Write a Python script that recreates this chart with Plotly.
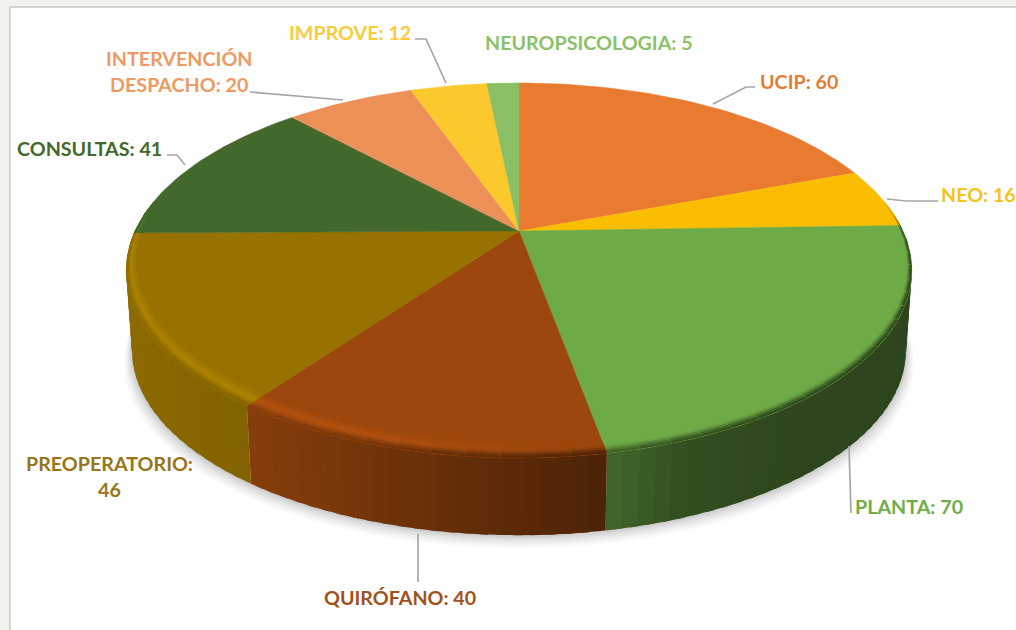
import math
import plotly.graph_objects as go

# ---------- data ----------
categories = ["UCIP", "NEO", "PLANTA", "QUIRÓFANO", "PREOPERATORIO",
              "CONSULTAS", "INTERVENCIÓN DESPACHO", "IMPROVE", "NEUROPSICOLOGIA"]
values = [60, 16, 70, 40, 46, 41, 20, 12, 5]
colors = ["#E97B30", "#FBBD00", "#6EAB46", "#9C470D", "#977200",
          "#43682B", "#EC9058", "#FBC92E", "#8ABF66"]
label_colors = ["#E57C33", "#F4C21A", "#70AD47", "#A0521C", "#99751A",
                "#43682B", "#EE9A63", "#FBCB3C", "#8CC168"]

# ---------- label layout (pixel space) ----------
label_text = ["UCIP: 60", "NEO: 16", "PLANTA: 70", "QUIRÓFANO: 40", "PREOPERATORIO:<br>46",
              "CONSULTAS: 41", "INTERVENCIÓN<br>DESPACHO: 20", "IMPROVE: 12", "NEUROPSICOLOGIA: 5"]
label_xy = [(799, 81), (978, 194), (909, 506), (400, 597), (109, 476),
            (89, 148), (179, 71), (350, 32), (589, 42)]
leaders = [[(713, 104), (746, 87), (755, 87)],
           [(887, 199), (906, 201), (938, 201)],
           [(849, 446), (851, 513)],
           [(418, 534), (418, 582)],
           [],
           [(167, 155), (177, 155), (185, 165)],
           [(250, 92), (343, 100)],
           [(415, 39), (426, 39), (446, 83)],
           []]

# ---------- projection of the disc ----------
CX, CY, R, K, PERSP = 519, 231, 384, 179.2, 0.2107
E_CY = 270           # visual centre of the projected ellipse
DEPTH, SHRINK = 80, 0.985


def top(theta, r=1.0):
    t = math.radians(theta)
    c, s = r * math.cos(t), r * math.sin(t)
    w = 1 / (1 + PERSP * c)
    return CX + R * s * w, CY - K * c * w


def low(theta, grow=0.0, drop=0.0):
    x, y = top(theta)
    return (CX + (x - CX) * (SHRINK + grow), E_CY + (y - E_CY) * SHRINK + DEPTH + drop)


def rgb(h):
    return tuple(int(h[i:i + 2], 16) for i in (1, 3, 5))


def mix(a, b, t):
    return tuple(a[i] + (b[i] - a[i]) * t for i in range(3))


def css(c):
    return "rgb(%d,%d,%d)" % tuple(max(0, min(255, round(v))) for v in c)


def interp(x, xs, ys):
    if x <= xs[0]:
        return ys[0]
    for i in range(1, len(xs)):
        if x <= xs[i]:
            return ys[i - 1] + (ys[i] - ys[i - 1]) * (x - xs[i - 1]) / (xs[i] - xs[i - 1])
    return ys[-1]


def wall_factor(x):
    return interp(x, [126, 254, 420, 600, 604, 680, 800, 912],
                  [0.93, 0.86, 0.68, 0.50, 0.60, 0.47, 0.41, 0.41])


fig = go.Figure()


def poly(pts, color, lw=0.0):
    xs = [p[0] for p in pts] + [pts[0][0]]
    ys = [p[1] for p in pts] + [pts[0][1]]
    fig.add_trace(go.Scatter(x=xs, y=ys, mode="lines", fill="toself", fillcolor=color,
                             line=dict(color=color, width=lw), hoverinfo="skip", showlegend=False))


total = sum(values)
edges = [0.0]
for v in values:
    edges.append(edges[-1] + v / total * 360)

# soft shadow below the disc
for i in range(10):
    d = 16 - i * 1.6
    shade = mix((255, 255, 255), (205, 205, 205), (i / 9) ** 1.6)
    pts = [low(a, grow=d * 0.0016, drop=d) for a in [80 + j * 2 for j in range(101)]]
    poly(pts, css(shade))

# side wall, split along each slice (each strip runs under the next one so no seams show)
for i, col in enumerate(colors):
    a0, a1 = max(edges[i], 85), min(edges[i + 1], 275)
    if a1 <= a0:
        continue
    n = max(1, int((a1 - a0) / 2))
    base = rgb(col)
    for j in range(n):
        u0 = a0 + (a1 - a0) * j / n
        u1 = a0 + (a1 - a0) * (j + 1) / n
        ue = u1 + 1.0 if j < n - 1 else u1
        xm = top((u0 + u1) / 2)[0]
        f = wall_factor(xm)
        poly([top(u0), top(ue), low(ue), low(u0)], css(tuple(v * f for v in base)))

# flat upper face
for i, col in enumerate(colors):
    a0, a1 = edges[i], edges[i + 1]
    n = max(2, int((a1 - a0) / 1.5))
    pts = [(CX, CY)] + [top(a0 + (a1 - a0) * j / n) for j in range(n + 1)]
    poly(pts, col, 0.5)


# bevelled rim on the near half
def rim_width(a):
    c = math.cos(math.radians(a))
    if c > 0.17:
        return 0.0
    fade = min(1.0, (0.17 - c) / 0.17)
    return fade * 0.016 + 0.047 * max(0.0, -c)


RINGS = 9
for i, col in enumerate(colors):
    a0, a1 = max(edges[i], 80), min(edges[i + 1], 280)
    if a1 <= a0:
        continue
    n = max(1, int((a1 - a0) / 4))
    base = rgb(col)
    for j in range(n):
        u0 = a0 + (a1 - a0) * j / n
        u1 = a0 + (a1 - a0) * (j + 1) / n
        ue = u1 + 1.5 if j < n - 1 else u1
        m = (u0 + u1) / 2
        xm = top(m)[0]
        f = wall_factor(xm)
        side = tuple(v * f for v in base)
        h = max(0.0, min(1.0, (560 - xm) / 220))
        bright = tuple(v * (1 + 0.14 * h) for v in base)
        for q in range(RINGS):
            s0, sm = q / RINGS, (q + 0.5) / RINGS
            if sm < 0.5:
                c = mix(base, bright, sm / 0.5)
            else:
                tt = (sm - 0.5) / 0.5
                c = mix(bright, side, tt * tt * (3 - 2 * tt))
            w0, w1 = rim_width(u0), rim_width(ue)
            poly([top(u0, 1 - w0 * (1 - s0)), top(ue, 1 - w1 * (1 - s0)),
                  top(ue), top(u0)], css(c))

# leader lines
for path in leaders:
    if path:
        fig.add_trace(go.Scatter(x=[p[0] for p in path], y=[p[1] for p in path], mode="lines",
                                 line=dict(color="#A6A6A6", width=1.7), hoverinfo="skip", showlegend=False))

# labels
for (x, y), txt, col in zip(label_xy, label_text, label_colors):
    fig.add_annotation(x=x, y=y, text=txt, showarrow=False, xanchor="center", yanchor="middle",
                       font=dict(family="Lato", size=19.7, color=col, weight=700), align="center")

fig.update_layout(
    width=1016, height=630, autosize=False,
    margin=dict(l=0, r=0, t=0, b=0),
    paper_bgcolor="#F3F2EF", plot_bgcolor="rgba(0,0,0,0)",
    xaxis=dict(range=[0, 1016], visible=False, fixedrange=True),
    yaxis=dict(range=[630, 0], visible=False, fixedrange=True),
    shapes=[dict(type="rect", xref="x", yref="y", x0=10, y0=7, x1=1030, y1=640,
                 fillcolor="#FFFFFF", line=dict(color="#D4D4D4", width=2), layer="below")],
)
fig.write_html("out.html", config={"displayModeBar": False},
               post_script="document.body.style.margin='0';document.documentElement.style.overflow='hidden';")
